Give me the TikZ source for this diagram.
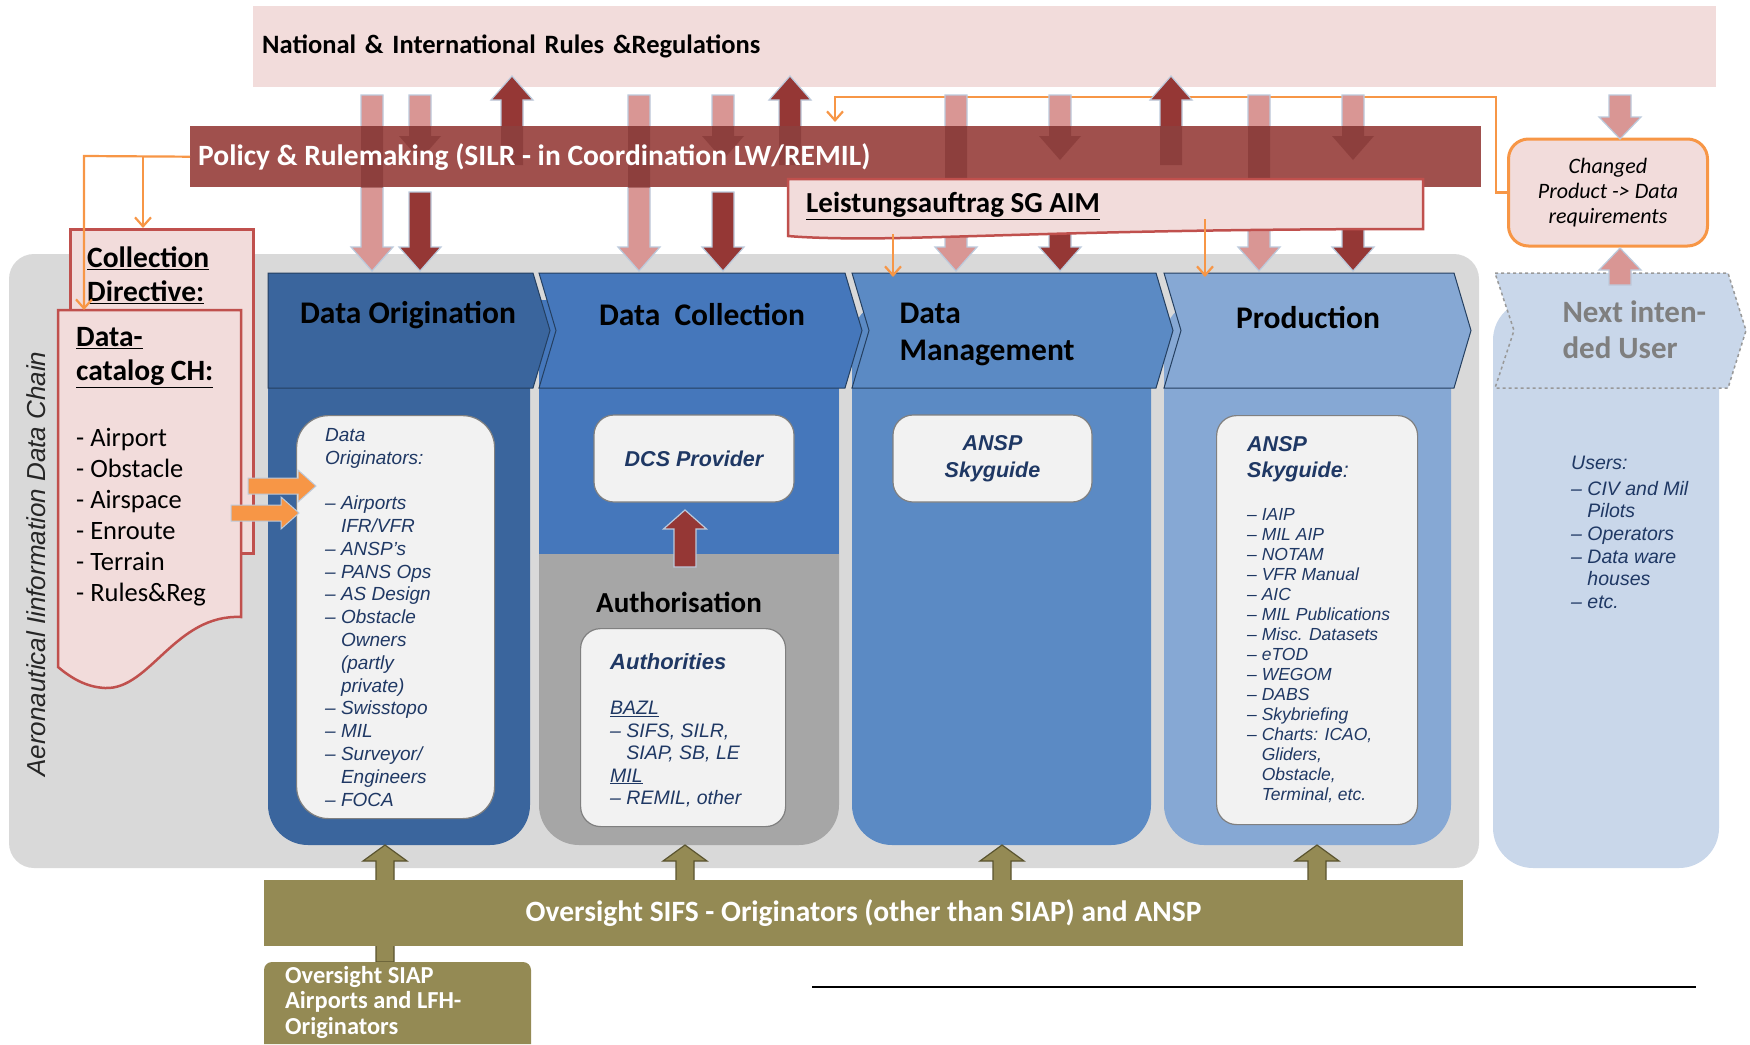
\documentclass[tikz,border=0pt]{standalone}
\usepackage{fontspec}
\setmainfont{Carlito}
\newfontfamily\arialfont{Liberation Sans}
\usetikzlibrary{arrows.meta,calc,positioning}

\definecolor{rulespink}{HTML}{F2DCDB}
\definecolor{policyred}{HTML}{A0504D}
\definecolor{boxred}{HTML}{C0504D}
\definecolor{arrpink}{HTML}{D99694}
\definecolor{arrred}{HTML}{953735}
\definecolor{arrglow}{HTML}{BCCADC}
\definecolor{orangeln}{HTML}{F79646}
\definecolor{chaingray}{HTML}{D9D9D9}
\definecolor{authgray}{HTML}{A6A6A6}
\definecolor{origblue}{HTML}{3A659D}
\definecolor{collblue}{HTML}{4577BB}
\definecolor{mgmtblue}{HTML}{5B8AC4}
\definecolor{prodblue}{HTML}{86A8D4}
\definecolor{userblue}{HTML}{C9D7EA}
\definecolor{usergray}{HTML}{7F7F7F}
\definecolor{olive}{HTML}{948A54}
\definecolor{olivedark}{HTML}{5A542F}
\definecolor{navytext}{HTML}{1F3864}
\definecolor{chevline}{HTML}{243F60}
\definecolor{boxwhite}{HTML}{F2F2F2}
\definecolor{boxborder}{HTML}{808080}

% vertical block arrow: style, x, y start, y tip, shaft width, head width, head length
\newcommand{\blockarrow}[7]{%
  \pgfmathsetmacro\dirsign{sign(#4-#3)}%
  \path[#1] ({#2-#5/2},#3) -- ({#2-#5/2},{#4-#7*\dirsign}) -- ({#2-#6/2},{#4-#7*\dirsign})
    -- (#2,#4) -- ({#2+#6/2},{#4-#7*\dirsign}) -- ({#2+#5/2},{#4-#7*\dirsign})
    -- ({#2+#5/2},#3) -- cycle;}

\begin{document}
\begin{tikzpicture}[x=1pt,y=-1pt]

  \tikzset{
    bandtext/.style={anchor=north west, inner ysep=0pt, align=left},
    headtext/.style={font=\bfseries\fontsize{31.5}{37}\selectfont, text=black},
    catalogtext/.style={font=\fontsize{26.5}{31}\selectfont, anchor=north west, inner sep=0pt, align=left},
    listtext/.style={font=\arialfont\itshape\fontsize{19}{22.8}\selectfont, text=navytext,
      anchor=north west, inner sep=0pt, align=left},
    listhead/.style={font=\arialfont\bfseries\itshape\fontsize{21.5}{26}\selectfont, text=navytext, align=center},
    innerbox/.style={draw=boxborder, fill=boxwhite, line width=1.2pt, rounded corners=20pt},
    pinkblock/.style={fill=arrpink, draw=arrglow, line width=1.2pt},
    redblock/.style={fill=arrred, draw=arrglow, line width=1.2pt},
    darkshade/.style={fill=arrred!80!black, fill opacity=0.45},
    oliveblock/.style={fill=olive, draw=olivedark, line width=1.2pt},
    orangeblock/.style={fill=orangeln, draw=arrglow, line width=1pt},
    orangeline/.style={draw=orangeln, line width=2.2pt, -{Straight Barb[length=9pt,width=16pt]}},
    pinkbox/.style={fill=rulespink, draw=boxred, line width=2.5pt},
  }

  \useasboundingbox (0,0) rectangle (1750,1044);

  % Rules band
  \node[bandtext, fill=rulespink, minimum height=81pt, text width=1445pt, inner xsep=9pt,
    font=\bfseries\fontsize{26.5}{30}\selectfont] (rules) at (253,6)
    {National \& International Rules \&Regulations};

  % Data chain background and columns
  \fill[chaingray, rounded corners=25pt] (9,254) rectangle (1479,868);
  \fill[userblue, rounded corners=40pt] (1493,300) rectangle (1719,868);
  \foreach \l/\r/\col in {268/530/origblue, 852/1151/mgmtblue, 1164/1451/prodblue}
    {\fill[\col, rounded corners=40pt] (\l,300) rectangle (\r,845);}
  \fill[authgray, rounded corners=40pt] (539,300) rectangle (839,845);
  \fill[collblue] (539,300) rectangle (839,554);

  % Chevrons
  \foreach \l/\r/\n/\col in {268/533/0/origblue, 539/845/17/collblue, 852/1156/17/mgmtblue, 1164/1454/17/prodblue}
    {\path[fill=\col, draw=chevline, line width=1pt] (\l,273) -- (\r,273) -- ({\r+17},330.5) -- (\r,388)
      -- (\l,388) -- ({\l+\n},330.5) -- cycle;}
  \path[fill=userblue, draw=usergray!80, dashed, line width=1.5pt] (1495,273) -- (1728,273) -- (1746,330.5)
    -- (1728,388) -- (1495,388) -- (1514,330.5) -- cycle;

  \node[headtext] (orig head) at (408,315) {Data Origination};
  \node[headtext] (coll head) at (702,315) {Data\ \ Collection};
  \node[headtext, align=left, anchor=west] (mgmt head) at (896,334) {Data\\Management};
  \node[headtext] (prod head) at (1308,318) {Production};
  \node[headtext, font=\bfseries\fontsize{31}{36}\selectfont, text=usergray, align=left, anchor=west]
    (user head) at (1559,330) {Next inten-\\ded User};

  % Changed product box
  \node[draw=orangeln, fill=rulespink, line width=3pt, rounded corners=20pt, minimum width=199pt,
    minimum height=107pt, align=center, font=\itshape\fontsize{22}{25}\selectfont] (changed) at (1608,192.5)
    {Changed\\Product -> Data\\requirements};
  \coordinate (turn right) at (1496,97);
  \coordinate (turn left) at (835,97);
  \draw[orangeline] (changed.west) -| (turn right) -- (turn left) -- (turn left |- 0,122);

  % Arrows between rules, policy and chain
  \foreach \x in {372,639,956,1259}
    {\blockarrow{pinkblock}{\x}{95}{271}{22}{42}{24}}
  \foreach \x in {420,723,1060,1353}
    {\blockarrow{pinkblock}{\x}{95}{160}{22}{42}{24}}
  \foreach \x in {512,790,1171}
    {\blockarrow{redblock}{\x}{165}{76}{22}{42}{24}}
  \foreach \x in {420,723,1060,1353}
    {\blockarrow{redblock}{\x}{192}{271}{22}{42}{24}}

  % Policy band
  \node[anchor=north west, fill=policyred, minimum height=61pt, minimum width=1291pt] (policy) at (190,126) {};
  \begin{scope}
    \clip (policy.north west) rectangle (policy.south east);
    \foreach \x in {372,639,956,1259}
      {\blockarrow{darkshade}{\x}{95}{271}{22}{42}{24}}
    \foreach \x in {420,723,1060,1353}
      {\blockarrow{darkshade}{\x}{95}{160}{22}{42}{24}}
    \foreach \x in {512,790,1171}
      {\blockarrow{darkshade}{\x}{165}{76}{22}{42}{24}}
  \end{scope}
  \node[anchor=west, inner sep=0pt, text=white, font=\bfseries\fontsize{29.5}{32}\selectfont]
    (policy text) at ([xshift=8pt]policy.west) {Policy \& Rulemaking (SILR - in Coordination LW/REMIL)};

  % Leistungsauftrag
  \path[pinkbox] (788,179) -- (1423,179) -- (1423,229) .. controls (1150,229) and (1000,236) .. (900,238)
    .. controls (850,239) and (810,238) .. (788,236) -- cycle;
  \node[anchor=west, inner sep=0pt, font=\bfseries\fontsize{29}{32}\selectfont] (leistung) at (806,206)
    {\underline{Leistungsauftrag SG AIM}};
  \coordinate (mgmt in) at (893,277);
  \coordinate (prod in) at (1205,277);
  \draw[orangeline] (mgmt in |- 0,234) -- (mgmt in);
  \draw[orangeline] (prod in |- 0,219) -- (prod in);

  % Changed product arrows
  \blockarrow{pinkblock}{1620}{95}{139}{22}{42}{22}
  \blockarrow{pinkblock}{1620}{285}{248}{22}{42}{22}

  % Collection directive and data catalog
  \node[pinkbox, anchor=north west, minimum width=183pt, minimum height=324pt] (collection) at (69,228) {};
  \path[pinkbox] (58,310) -- (241,310) -- (241,617) .. controls (175,614) and (150,690) .. (105,688)
    .. controls (85,687) and (70,677) .. (58,667) -- cycle;
  \coordinate (catalog top) at (58,310);
  \node[catalogtext, font=\bfseries\fontsize{29.5}{34}\selectfont] (collection text) at (87,247)
    {\underline{Collection}\\\underline{Directive:}};
  \node[catalogtext, font=\bfseries\fontsize{29.5}{34}\selectfont] (catalog head) at (76,327)
    {\underline{Data-}\\\underline{catalog CH:}};
  \node[catalogtext] (catalog list) at (76,428)
    {- Airport\\- Obstacle\\- Airspace\\- Enroute\\- Terrain\\- Rules\&Reg};
  \coordinate (catalog split) at (143,156);
  \coordinate (catalog corner) at (84,156);
  \draw[orangeline] (policy.west) -- (catalog corner) -- (catalog corner |- catalog top);
  \draw[orangeline] (catalog split) -- (catalog split |- collection.north);

  \node[rotate=90, font=\arialfont\itshape\fontsize{26}{30}\selectfont, text=black!85] (chain label)
    at (36,564) {Aeronautical Iinformation Data Chain};

  % Inner boxes
  \node[innerbox, rounded corners=32pt, anchor=north west, minimum width=198pt, minimum height=403pt]
    (originators) at (296,415) {};
  \node[listtext] (originators list) at (325,428)
    {Data\\Originators:\\[22.8pt]– Airports\\\phantom{– }IFR/VFR\\– ANSP’s\\– PANS Ops\\– AS Design\\
     – Obstacle\\\phantom{– }Owners\\\phantom{– }(partly\\\phantom{– }private)\\– Swisstopo\\– MIL\\
     – Surveyor/\\\phantom{– }Engineers\\– FOCA};

  \node[innerbox, minimum width=200pt, minimum height=87pt, listhead] (dcs) at (694,458.5) {DCS Provider};
  \blockarrow{redblock}{685}{567}{510}{22}{43}{19}
  \node[font=\bfseries\fontsize{29}{32}\selectfont] (authorisation) at (679,602) {Authorisation};
  \node[innerbox, anchor=north west, minimum width=205pt, minimum height=198pt] (authorities) at (580,628) {};
  \node[listhead, font=\arialfont\bfseries\itshape\fontsize{22}{26}\selectfont, anchor=west, inner sep=0pt]
    (authorities head) at (610,662) {Authorities};
  \node[listtext, font=\arialfont\itshape\fontsize{19.5}{22.5}\selectfont] (authorities list) at (610,701)
    {\underline{BAZL}\\– SIFS, SILR,\\\phantom{– }SIAP, SB, LE\\\underline{MIL}\\– REMIL, other};

  \node[innerbox, minimum width=199pt, minimum height=87pt, listhead, font=\arialfont\bfseries\itshape\fontsize{21.5}{27}\selectfont]
    (skyguide mgmt) at (992.5,458.5) {ANSP\\Skyguide};

  \node[innerbox, anchor=north west, minimum width=201pt, minimum height=409pt] (skyguide prod) at (1216,415) {};
  \node[listhead, align=left, anchor=north west, inner sep=0pt] (skyguide head) at (1247,436)
    {ANSP\\Skyguide{\mdseries:}};
  \node[listtext, font=\arialfont\itshape\fontsize{17.5}{20}\selectfont] (products list) at (1247,508)
    {– IAIP\\– MIL AIP\\– NOTAM\\– VFR Manual\\– AIC\\– MIL Publications\\– Misc. Datasets\\– eTOD\\
     – WEGOM\\– DABS\\– Skybriefing\\– Charts: ICAO,\\\phantom{– }Gliders,\\\phantom{– }Obstacle,\\
     \phantom{– }Terminal, etc.};

  \node[listtext, font=\arialfont\itshape\fontsize{19.5}{22.6}\selectfont] (users list) at (1571,456)
    {Users:\\[3pt]– CIV and Mil\\\phantom{– }Pilots\\– Operators\\– Data ware\\\phantom{– }houses\\– etc.};

  % Catalog to originators
  \path[orangeblock] (248,478) -- (298,478) -- (298,470) -- (316,486) -- (298,502) -- (298,494) -- (248,494) -- cycle;
  \path[orangeblock] (231,505) -- (281,505) -- (281,497) -- (299,513) -- (281,529) -- (281,521) -- (231,521) -- cycle;

  % Oversight
  \blockarrow{oliveblock}{385}{962}{845}{18}{44}{16}
  \foreach \x in {685,1002,1317}
    {\blockarrow{oliveblock}{\x}{882}{845}{18}{44}{16}}
  \node[fill=olive, minimum width=1199pt, minimum height=66pt, text=white,
    font=\bfseries\fontsize{29.5}{32}\selectfont] (sifs) at (863.5,913)
    {Oversight SIFS - Originators (other than SIAP) and ANSP};
  \fill[olive, rounded corners=8pt] (264,1044) -- (264,962) -- (531,962) -- (531,1044);
  \node[anchor=north west, inner sep=0pt, align=left, text=white, font=\bfseries\fontsize{24.4}{25.5}\selectfont]
    (siap) at (285,966) {Oversight SIAP\\Airports and LFH-\\Originators};

  \coordinate (rule start) at (812,987);
  \coordinate (rule end) at (1696,987);
  \draw[line width=2pt] (rule start) -- (rule end);

\end{tikzpicture}
\end{document}
